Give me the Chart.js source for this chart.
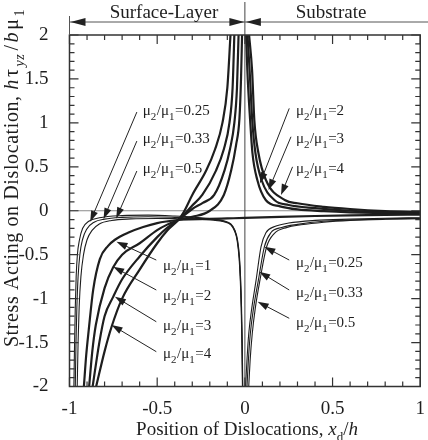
<!DOCTYPE html>
<html lang="en">
<head>
<meta charset="UTF-8">
<title>Stress acting on dislocation</title>
<script src="https://cdn.jsdelivr.net/npm/chart.js"></script>
<style>
  body { margin: 0; background: #fff; }
</style>
</head>
<body>
<canvas id="chart" width="428" height="440"></canvas>
<script>
// ---- data (x = x_d/h, y = h*tau_yz/(b*mu1)) ----
// surface-layer branches (x < 0)
const mu025LayerX = [-0.975,-0.971,-0.967,-0.962,-0.955,-0.943,-0.925,-0.89,-0.83,-0.7,-0.55,-0.4,-0.28,-0.18,-0.12,-0.08,-0.057,-0.042,-0.031,-0.024,-0.019,-0.015,-0.012];
const mu025LayerY = [-2,-1.5,-1.1,-0.75,-0.5,-0.33,-0.2,-0.12,-0.08,-0.055,-0.05,-0.06,-0.075,-0.095,-0.115,-0.15,-0.22,-0.33,-0.52,-0.78,-1.1,-1.5,-2];
const mu033LayerX = [-0.967,-0.963,-0.958,-0.951,-0.941,-0.926,-0.902,-0.86,-0.8,-0.7,-0.55,-0.4,-0.28,-0.18,-0.12,-0.08,-0.058,-0.043,-0.032,-0.025,-0.02,-0.016,-0.013];
const mu033LayerY = [-2,-1.5,-1.1,-0.75,-0.5,-0.33,-0.21,-0.13,-0.095,-0.075,-0.068,-0.075,-0.085,-0.1,-0.12,-0.155,-0.225,-0.335,-0.53,-0.79,-1.1,-1.5,-2];
const mu05LayerX = [-0.956,-0.951,-0.945,-0.935,-0.92,-0.9,-0.87,-0.83,-0.76,-0.65,-0.5,-0.4,-0.28,-0.18,-0.12,-0.08,-0.059,-0.044,-0.033,-0.026,-0.021,-0.017,-0.014];
const mu05LayerY = [-2,-1.5,-1.1,-0.75,-0.5,-0.33,-0.22,-0.15,-0.11,-0.093,-0.088,-0.09,-0.095,-0.107,-0.125,-0.16,-0.23,-0.34,-0.54,-0.8,-1.1,-1.5,-2];
const mu1LayerX = [-0.918,-0.905,-0.89,-0.865,-0.827,-0.78,-0.741,-0.66,-0.58,-0.5,-0.44,-0.38,-0.3,-0.2,-0.12,-0.078,-0.05,-0.031,-0.022,-0.016];
const mu1LayerY = [-2,-1.65,-1.35,-0.9,-0.55,-0.4,-0.33,-0.245,-0.185,-0.14,-0.12,-0.105,-0.07,0.0,0.18,0.46,0.75,1.05,1.5,2];
const mu2LayerX = [-0.888,-0.87,-0.85,-0.8,-0.751,-0.7,-0.6,-0.5,-0.44,-0.38,-0.3,-0.24,-0.175,-0.116,-0.085,-0.06,-0.045,-0.036];
const mu2LayerY = [-2,-1.6,-1.3,-0.88,-0.644,-0.5,-0.37,-0.22,-0.155,-0.105,0.02,0.09,0.18,0.46,0.7,1.0,1.4,2];
const mu3LayerX = [-0.868,-0.83,-0.8,-0.751,-0.7,-0.6,-0.5,-0.44,-0.38,-0.3,-0.243,-0.164,-0.12,-0.088,-0.07,-0.06];
const mu3LayerY = [-2,-1.5,-1.2,-0.98,-0.78,-0.52,-0.3,-0.19,-0.105,0.06,0.18,0.46,0.7,1.0,1.4,2];
const mu4LayerX = [-0.848,-0.8,-0.76,-0.7,-0.6,-0.5,-0.44,-0.38,-0.35,-0.3,-0.22,-0.17,-0.128,-0.1,-0.082];
const mu4LayerY = [-2,-1.6,-1.32,-1.0,-0.67,-0.37,-0.22,-0.105,-0.02,0.18,0.46,0.7,1.0,1.4,2];

// substrate branches (x > 0)
const mu025SubX = [0.022,0.03,0.042,0.06,0.086,0.124,0.167,0.24,0.32,0.45,0.6,0.8,1];
const mu025SubY = [-2,-1.7,-1.4,-1.1,-0.79,-0.41,-0.26,-0.19,-0.16,-0.13,-0.11,-0.097,-0.09];
const mu033SubX = [0.012,0.02,0.031,0.05,0.077,0.111,0.148,0.21,0.3,0.45,0.6,0.8,1];
const mu033SubY = [-2,-1.7,-1.4,-1.1,-0.79,-0.41,-0.25,-0.19,-0.155,-0.12,-0.105,-0.092,-0.085];
const mu05SubX = [0.004,0.012,0.022,0.04,0.064,0.092,0.12,0.17,0.25,0.4,0.6,0.8,1];
const mu05SubY = [-2,-1.7,-1.4,-1.1,-0.79,-0.41,-0.25,-0.18,-0.14,-0.11,-0.095,-0.085,-0.08];
const mu1FlatX = [-0.38,-0.2,-0.1,0,0.2,0.4,0.6,0.8,1];
const mu1FlatY = [-0.1,-0.092,-0.087,-0.082,-0.07,-0.06,-0.053,-0.048,-0.044];
const mu2SubX = [0.007,0.014,0.03,0.043,0.071,0.12,0.2,0.3,0.45,0.6,0.8,1];
const mu2SubY = [2,1.6,1.03,0.66,0.35,0.12,0.05,0.015,-0.005,-0.018,-0.028,-0.034];
const mu3SubX = [0.015,0.027,0.042,0.06,0.095,0.17,0.25,0.4,0.6,0.8,1];
const mu3SubY = [2,1.6,1.03,0.66,0.35,0.12,0.065,0.03,0.0,-0.015,-0.025];
const mu4SubX = [0.024,0.041,0.054,0.077,0.12,0.23,0.3,0.45,0.6,0.8,1];
const mu4SubY = [2,1.6,1.03,0.66,0.35,0.12,0.085,0.045,0.02,-0.003,-0.015];

const xTicks = [-1, -0.5, 0, 0.5, 1];
const yTicks = [-2, -1.5, -1, -0.5, 0, 0.5, 1, 1.5, 2];

// ---- label placement (data coords): text left/middle, arrow start -> tip ----
const notes = [
  { r: '0.25', tx: -0.582, ty: 1.146, ax: -0.616, ay: 1.123, bx: -0.882, by: -0.125 },
  { r: '0.33', tx: -0.582, ty: 0.827, ax: -0.616, ay: 0.793, bx: -0.806, by: -0.094 },
  { r: '0.5',  tx: -0.582, ty: 0.486, ax: -0.616, ay: 0.452, bx: -0.734, by: -0.087 },
  { r: '2', tx: 0.291, ty: 1.146, ax: 0.253, ay: 1.165, bx: 0.086, by: 0.312 },
  { r: '3', tx: 0.291, ty: 0.827, ax: 0.263, ay: 0.842, bx: 0.135, by: 0.235 },
  { r: '4', tx: 0.291, ty: 0.486, ax: 0.272, ay: 0.5, bx: 0.206, by: 0.179 },
  { r: '1', tx: -0.467, ty: -0.618, ax: -0.505, ay: -0.561, bx: -0.732, by: -0.353 },
  { r: '2', tx: -0.467, ty: -0.959, ax: -0.505, ay: -0.902, bx: -0.751, by: -0.637 },
  { r: '3', tx: -0.467, ty: -1.3, ax: -0.505, ay: -1.263, bx: -0.741, by: -0.978 },
  { r: '4', tx: -0.467, ty: -1.622, ax: -0.505, ay: -1.604, bx: -0.76, by: -1.3 },
  { r: '0.25', tx: 0.291, ty: -0.58, ax: 0.253, ay: -0.561, bx: 0.111, by: -0.41 },
  { r: '0.33', tx: 0.291, ty: -0.921, ax: 0.253, ay: -0.902, bx: 0.082, by: -0.694 },
  { r: '0.5',  tx: 0.291, ty: -1.263, ax: 0.253, ay: -1.224, bx: 0.073, by: -1.035 }
];

const SERIF = '"Liberation Serif", "Times New Roman", serif';
const INK = '#1e1e1e';

function pts(xs, ys) { return xs.map((x, i) => ({ x: x, y: ys[i] })); }
function curve(xs, ys, w) {
  return { data: pts(xs, ys), showLine: true, borderColor: INK, borderWidth: w,
           pointRadius: 0, cubicInterpolationMode: 'monotone', fill: false };
}

const THIN = 1.1, THICK = 2.2;
const datasets = [
  curve(mu025LayerX, mu025LayerY, THIN), curve(mu033LayerX, mu033LayerY, THIN), curve(mu05LayerX, mu05LayerY, THIN),
  curve(mu1LayerX, mu1LayerY, THICK), curve(mu2LayerX, mu2LayerY, THICK),
  curve(mu3LayerX, mu3LayerY, THICK), curve(mu4LayerX, mu4LayerY, THICK),
  curve(mu025SubX, mu025SubY, THIN), curve(mu033SubX, mu033SubY, THIN), curve(mu05SubX, mu05SubY, THIN),
  curve(mu1FlatX, mu1FlatY, THICK),
  curve(mu2SubX, mu2SubY, THICK), curve(mu3SubX, mu3SubY, THICK), curve(mu4SubX, mu4SubY, THICK)
];

// text pieces: [text, kind, extraGap] kind: n normal, i italic, s subscript, si italic subscript
function fontFor(kind, size) {
  const sub = kind[0] === 's';
  const it = kind.indexOf('i') >= 0;
  return (it ? 'italic ' : '') + (sub ? Math.round(size * 0.7) : size) + 'px ' + SERIF;
}
function richWidth(ctx, parts, size) {
  let w = 0;
  parts.forEach(p => { ctx.font = fontFor(p[1], size); w += ctx.measureText(p[0]).width + (p[2] || 0); });
  return w;
}
function drawRich(ctx, parts, x, y, size) {
  ctx.textBaseline = 'alphabetic';
  ctx.textAlign = 'left';
  parts.forEach(p => {
    ctx.font = fontFor(p[1], size);
    const dy = p[1][0] === 's' ? size * 0.32 : 0;
    ctx.fillText(p[0], x, y + dy);
    x += ctx.measureText(p[0]).width + (p[2] || 0);
  });
}

function arrow(ctx, x1, y1, x2, y2, len, half) {
  const a = Math.atan2(y2 - y1, x2 - x1);
  ctx.beginPath();
  ctx.moveTo(x1, y1);
  ctx.lineTo(x2 - Math.cos(a) * len * 0.8, y2 - Math.sin(a) * len * 0.8);
  ctx.stroke();
  ctx.beginPath();
  ctx.moveTo(x2, y2);
  ctx.lineTo(x2 - Math.cos(a) * len + Math.sin(a) * half, y2 - Math.sin(a) * len - Math.cos(a) * half);
  ctx.lineTo(x2 - Math.cos(a) * len - Math.sin(a) * half, y2 - Math.sin(a) * len + Math.cos(a) * half);
  ctx.closePath();
  ctx.fill();
}

const decor = {
  id: 'decor',
  beforeDatasetsDraw(chart) {
    const { ctx, chartArea: a, scales: { x, y } } = chart;
    ctx.save();
    ctx.lineWidth = 1;
    ctx.strokeStyle = '#8a8a8a';
    ctx.beginPath();
    ctx.moveTo(a.left, y.getPixelForValue(0));
    ctx.lineTo(a.right, y.getPixelForValue(0));
    ctx.stroke();
    ctx.strokeStyle = '#444';
    ctx.beginPath();
    ctx.moveTo(x.getPixelForValue(0), 2);
    ctx.lineTo(x.getPixelForValue(0), a.bottom);
    ctx.stroke();
    ctx.restore();
  },
  afterDraw(chart) {
    const { ctx, chartArea: a, scales: { x, y } } = chart;
    ctx.save();
    ctx.strokeStyle = '#333';
    ctx.fillStyle = INK;

    // frame + inward ticks
    ctx.lineWidth = 1.5;
    ctx.strokeRect(a.left, a.top, a.right - a.left, a.bottom - a.top);
    ctx.lineWidth = 1.2;
    ctx.beginPath();
    for (let i = -10; i <= 10; i++) {
      const px = x.getPixelForValue(i / 10);
      const len = i % 5 === 0 ? 9 : 5;
      ctx.moveTo(px, a.bottom); ctx.lineTo(px, a.bottom - len);
      ctx.moveTo(px, a.top); ctx.lineTo(px, a.top + len);
    }
    for (let i = -20; i <= 20; i++) {
      const py = y.getPixelForValue(i / 10);
      const len = i % 5 === 0 ? 9 : 5;
      ctx.moveTo(a.left, py); ctx.lineTo(a.left + len, py);
      ctx.moveTo(a.right, py); ctx.lineTo(a.right - len, py);
    }
    ctx.stroke();

    // header: region arrows
    const x0 = x.getPixelForValue(0);
    const hy = 22;
    ctx.lineWidth = 1;
    ctx.strokeStyle = '#555';
    ctx.beginPath();
    ctx.moveTo(a.left, hy); ctx.lineTo(428, hy);
    ctx.moveTo(a.left, 16); ctx.lineTo(a.left, a.top);
    ctx.stroke();
    ctx.fillStyle = '#222';
    const head = (tip, dir) => {
      ctx.beginPath();
      ctx.moveTo(tip, hy);
      ctx.lineTo(tip + dir * 15, hy - 4);
      ctx.lineTo(tip + dir * 15, hy + 4);
      ctx.closePath();
      ctx.fill();
    };
    head(a.left + 1, 1);
    head(x0 - 0.5, -1);
    head(x0 + 1, 1);
    ctx.fillStyle = INK;
    ctx.font = '19px ' + SERIF;
    ctx.textAlign = 'center';
    ctx.textBaseline = 'alphabetic';
    ctx.fillText('Surface-Layer', 164, 18);
    ctx.fillText('Substrate', 331, 18);

    // ratio labels with arrows
    ctx.lineWidth = 1;
    ctx.strokeStyle = '#222';
    notes.forEach(n => {
      arrow(ctx, x.getPixelForValue(n.ax), y.getPixelForValue(n.ay),
            x.getPixelForValue(n.bx), y.getPixelForValue(n.by), 11, 3.6);
      drawRich(ctx, [['\u03bc', 'n'], ['2', 's', 0.5], ['/\u03bc', 'n'], ['1', 's', 0.5], ['=' + n.r, 'n']],
               x.getPixelForValue(n.tx), y.getPixelForValue(n.ty) + 5, 15);
    });

    // axis titles
    const xt = [['Position of Dislocations, ', 'n'], ['x', 'i'], ['d', 's'], ['/', 'n'], ['h', 'i']];
    const xw = richWidth(ctx, xt, 19);
    drawRich(ctx, xt, 247 - xw / 2, 435, 19);

    const yt = [['Stress Acting on Dislocation, ', 'n'], ['h', 'i', 2], ['\u03c4', 'n', 2], ['yz', 'si', 3],
                ['/', 'n', 2], ['b', 'i', 2], ['\u03bc', 'n', 2], ['1', 's']];
    ctx.save();
    ctx.letterSpacing = '0.6px';
    const yw = richWidth(ctx, yt, 20);
    ctx.translate(18, 178);
    ctx.rotate(-Math.PI / 2);
    drawRich(ctx, yt, -yw / 2, 0, 20);
    ctx.restore();

    ctx.restore();
  }
};

new Chart(document.getElementById('chart'), {
  type: 'scatter',
  data: { datasets: datasets },
  options: {
    responsive: false,
    animation: false,
    devicePixelRatio: 1,
    layout: { padding: { top: 35, right: 7, left: 0, bottom: 0 } },
    plugins: { legend: { display: false }, tooltip: { enabled: false } },
    scales: {
      x: {
        type: 'linear', min: -1, max: 1,
        grid: { display: false }, border: { display: false },
        afterBuildTicks: s => { s.ticks = xTicks.map(v => ({ value: v })); },
        ticks: { padding: 3, color: INK, autoSkip: false, maxRotation: 0,
                 font: { family: SERIF, size: 19 }, callback: v => String(v) },
        afterFit: s => { s.height = 53.5; }
      },
      y: {
        type: 'linear', min: -2, max: 2,
        grid: { display: false }, border: { display: false },
        afterBuildTicks: s => { s.ticks = yTicks.map(v => ({ value: v })); },
        ticks: { padding: 13, color: INK, autoSkip: false,
                 font: { family: SERIF, size: 19 }, callback: v => String(v) },
        afterFit: s => { s.width = 69.5; }
      }
    }
  },
  plugins: [decor]
});
</script>
</body>
</html>
